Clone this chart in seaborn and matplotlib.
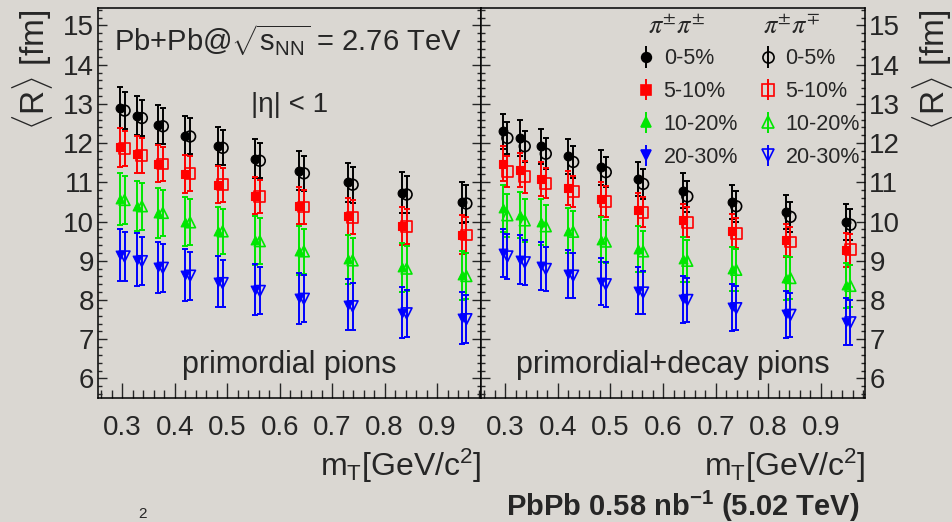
import matplotlib
matplotlib.use("Agg")
import matplotlib.pyplot as plt
import numpy as np
import pandas as pd
import seaborn as sns
from matplotlib.lines import Line2D
from matplotlib.ticker import MultipleLocator

sns.set_style("white")
plt.rcParams["font.family"] = ["Liberation Sans", "DejaVu Sans"]
plt.rcParams["mathtext.fontset"] = "custom"
plt.rcParams["mathtext.rm"] = "Liberation Sans"
plt.rcParams["mathtext.it"] = "Liberation Sans:italic"
plt.rcParams["mathtext.bf"] = "Liberation Sans:bold"

# ---------------------------------------------------------------------------
# Data
# ---------------------------------------------------------------------------
mt = [0.295, 0.328, 0.368, 0.420, 0.482, 0.553, 0.637, 0.730, 0.833, 0.947]
centralities = ["0-5%", "5-10%", "10-20%", "20-30%"]
colors = ["#000000", "#ff0000", "#00e600", "#0000ff"]
markers = ["o", "s", "^", "v"]

# primordial pions, like-sign (pi+-pi+-)
prim_like_R = [
    [12.90, 12.70, 12.47, 12.19, 11.92, 11.60, 11.30, 11.00, 10.74, 10.49],
    [11.89, 11.71, 11.48, 11.22, 10.94, 10.66, 10.40, 10.13, 9.89, 9.66],
    [10.58, 10.39, 10.22, 10.00, 9.75, 9.52, 9.26, 9.04, 8.83, 8.63],
    [9.15, 9.03, 8.83, 8.64, 8.47, 8.26, 8.05, 7.88, 7.68, 7.54],
]
prim_like_err = [
    [0.52, 0.50, 0.50, 0.50, 0.48, 0.50, 0.50, 0.50, 0.52, 0.53],
    [0.50, 0.48, 0.48, 0.48, 0.47, 0.47, 0.47, 0.48, 0.48, 0.50],
    [0.66, 0.64, 0.64, 0.63, 0.63, 0.63, 0.62, 0.62, 0.62, 0.62],
    [0.67, 0.67, 0.66, 0.66, 0.65, 0.65, 0.65, 0.65, 0.65, 0.66],
]
# primordial pions, unlike-sign (pi+-pi-+)
prim_unlike_R = [
    [12.83, 12.64, 12.43, 12.17, 11.88, 11.55, 11.23, 10.94, 10.69, 10.46],
    [11.86, 11.68, 11.47, 11.22, 10.94, 10.64, 10.37, 10.11, 9.88, 9.66],
    [10.55, 10.39, 10.22, 9.98, 9.75, 9.50, 9.24, 9.01, 8.80, 8.61],
    [9.11, 8.99, 8.82, 8.62, 8.43, 8.23, 8.03, 7.84, 7.66, 7.51],
]
prim_unlike_err = [
    [0.47, 0.46, 0.46, 0.46, 0.45, 0.45, 0.45, 0.46, 0.47, 0.48],
    [0.45, 0.44, 0.44, 0.44, 0.43, 0.43, 0.43, 0.44, 0.44, 0.45],
    [0.60, 0.60, 0.59, 0.59, 0.58, 0.58, 0.58, 0.58, 0.58, 0.58],
    [0.62, 0.62, 0.61, 0.61, 0.60, 0.60, 0.60, 0.60, 0.60, 0.61],
]
# primordial + decay pions, like-sign
decay_like_R = [
    [12.30, 12.13, 11.92, 11.66, 11.38, 11.09, 10.79, 10.50, 10.24, 9.99],
    [11.48, 11.31, 11.09, 10.85, 10.58, 10.30, 10.03, 9.77, 9.52, 9.28],
    [10.34, 10.17, 9.99, 9.77, 9.54, 9.30, 9.04, 8.79, 8.56, 8.37],
    [9.20, 9.03, 8.86, 8.67, 8.46, 8.23, 8.02, 7.82, 7.64, 7.45],
]
decay_like_err = [
    [0.45, 0.45, 0.45, 0.44, 0.44, 0.44, 0.44, 0.44, 0.44, 0.45],
    [0.44, 0.44, 0.43, 0.43, 0.43, 0.42, 0.42, 0.42, 0.43, 0.43],
    [0.60, 0.59, 0.59, 0.58, 0.58, 0.58, 0.57, 0.57, 0.57, 0.57],
    [0.62, 0.62, 0.61, 0.61, 0.60, 0.60, 0.60, 0.60, 0.60, 0.61],
]
# primordial + decay pions, unlike-sign
decay_unlike_R = [
    [12.13, 11.92, 11.73, 11.52, 11.26, 10.96, 10.64, 10.39, 10.12, 9.92],
    [11.28, 11.14, 10.98, 10.77, 10.51, 10.24, 9.98, 9.70, 9.48, 9.28],
    [10.16, 10.03, 9.88, 9.74, 9.49, 9.24, 9.00, 8.77, 8.56, 8.36],
    [9.11, 8.96, 8.79, 8.62, 8.40, 8.19, 8.00, 7.79, 7.62, 7.43],
]
decay_unlike_err = [
    [0.40, 0.40, 0.40, 0.40, 0.39, 0.39, 0.39, 0.39, 0.39, 0.40],
    [0.40, 0.40, 0.39, 0.39, 0.39, 0.39, 0.38, 0.38, 0.39, 0.39],
    [0.55, 0.55, 0.54, 0.54, 0.54, 0.53, 0.53, 0.53, 0.53, 0.53],
    [0.58, 0.58, 0.57, 0.57, 0.57, 0.56, 0.56, 0.56, 0.56, 0.57],
]

panel_labels = ["primordial pions", "primordial+decay pions"]
xticks = [0.3, 0.4, 0.5, 0.6, 0.7, 0.8, 0.9]
yticks = [6, 7, 8, 9, 10, 11, 12, 13, 14, 15]

# ---------------------------------------------------------------------------
# Long-form table for seaborn
# ---------------------------------------------------------------------------
rows = []
sets = [
    (0, "like", prim_like_R, prim_like_err),
    (0, "unlike", prim_unlike_R, prim_unlike_err),
    (1, "like", decay_like_R, decay_like_err),
    (1, "unlike", decay_unlike_R, decay_unlike_err),
]
for panel, pair, vals, errs in sets:
    for ci, cent in enumerate(centralities):
        for m, r, e in zip(mt, vals[ci], errs[ci]):
            rows.append({"panel": panel, "pair": pair, "cent": cent,
                         "mt": m, "R": r, "err": e})
df = pd.DataFrame(rows)

# ---------------------------------------------------------------------------
# Figure
# ---------------------------------------------------------------------------
bg = "#dad7d2"
fig = plt.figure(figsize=(9.53, 5.22), dpi=100, facecolor=bg)
ax_l = fig.add_axes([0.1032, 0.2375, 0.4016, 0.7475], facecolor=bg)
ax_r = fig.add_axes([0.5048, 0.2375, 0.4030, 0.7475], facecolor=bg)
axes = [ax_l, ax_r]

dx = 0.009  # horizontal shift of unlike-sign points
for p, ax in enumerate(axes):
    for ci, cent in enumerate(centralities):
        for pair in ["like", "unlike"]:
            sub = df[(df.panel == p) & (df.pair == pair) & (df.cent == cent)]
            xs = sub["mt"] + (dx if pair == "unlike" else 0.0)
            ax.errorbar(xs, sub["R"], yerr=sub["err"], fmt="none",
                        ecolor=colors[ci], elinewidth=1.4, capsize=2,
                        capthick=1.4, zorder=2)
            if pair == "like":
                sns.scatterplot(x=xs, y=sub["R"], ax=ax, marker=markers[ci],
                                color=colors[ci], edgecolor=colors[ci],
                                s=40, linewidth=0.8, zorder=3)
            else:
                sns.scatterplot(x=xs, y=sub["R"], ax=ax, marker=markers[ci],
                                facecolor="none", edgecolor=colors[ci],
                                s=60, linewidth=1.2, zorder=3)

    ax.set_xlim(0.254, 0.984)
    ax.set_ylim(5.5, 15.45)
    ax.set_xticks(xticks)
    ax.set_xticklabels([f"{t:.1f}" for t in xticks])
    ax.set_yticks(yticks)
    ax.xaxis.set_minor_locator(MultipleLocator(0.02))
    ax.yaxis.set_minor_locator(MultipleLocator(0.2))
    ax.set_xlabel("")
    ax.set_ylabel("")
    for s in ax.spines.values():
        s.set_color("black")
        s.set_linewidth(1.1)
    ax.tick_params(axis="x", which="major", direction="in", length=11,
                   width=1.0, bottom=True, top=False, labelsize=20, pad=12)
    ax.tick_params(axis="x", which="minor", direction="in", length=5.5,
                   width=1.0, bottom=True, top=False)
    ax.tick_params(axis="y", which="major", direction="in", length=6.5,
                   width=1.0, left=True, right=True, labelsize=20, pad=3)
    ax.tick_params(axis="y", which="minor", direction="in", length=3.2,
                   width=1.0, left=True, right=True)
    ax.text(0.5, 0.085, panel_labels[p], transform=ax.transAxes,
            ha="center", va="center", fontsize=22)
    ax.text(1.0, -0.175, r"m$_{\rm T}$[GeV/c$^{2}$]", transform=ax.transAxes,
            ha="right", va="center", fontsize=23)

ax_l.tick_params(axis="y", labelleft=True, labelright=False)
ax_r.tick_params(axis="y", labelleft=False, labelright=True)

ax_l.text(0.496, 0.918, r"Pb+Pb@$\sqrt{\mathrm{s}_{\rm NN}}$ = 2.76 TeV",
          transform=ax_l.transAxes, ha="center", va="center", fontsize=21)
ax_l.text(0.50, 0.751, "|η| < 1", transform=ax_l.transAxes,
          ha="center", va="center", fontsize=20)

fig.text(0.034, 0.866, r"$\langle$R$\rangle$ [fm]", rotation=90,
         ha="center", va="center", fontsize=24)
fig.text(0.978, 0.866, r"$\langle$R$\rangle$ [fm]", rotation=90,
         ha="center", va="center", fontsize=24)

# legend: two columns (like / unlike)
handles, labels = [], []
for pair in ["like", "unlike"]:
    for ci, cent in enumerate(centralities):
        eb = ax_r.errorbar([], [], yerr=[], fmt="none", ecolor=colors[ci],
                           elinewidth=1.4, capsize=2)
        mk = Line2D([], [], linestyle="none", marker=markers[ci],
                    color=colors[ci], markersize=7 if pair == "like" else 8,
                    markerfacecolor=colors[ci] if pair == "like" else "none",
                    markeredgewidth=1.2)
        handles.append((eb, mk))
        labels.append(cent)
leg = ax_r.legend(handles, labels, ncol=2, frameon=False, fontsize=15.5,
                  loc="upper left", bbox_to_anchor=(0.658, 0.928),
                  bbox_transform=fig.transFigure, borderpad=0,
                  handlelength=0.8, handletextpad=0.4, columnspacing=1.0,
                  labelspacing=0.55)
ax_r.text(0.51, 0.952, r"$\pi^{\pm}\pi^{\pm}$", transform=ax_r.transAxes,
          ha="center", va="center", fontsize=19, math_fontfamily="stix")
ax_r.text(0.81, 0.952, r"$\pi^{\pm}\pi^{\mp}$", transform=ax_r.transAxes,
          ha="center", va="center", fontsize=19, math_fontfamily="stix")

fig.text(0.902, 0.030, r"PbPb 0.58 nb$^{\mathbf{-1}}$ (5.02 TeV)",
         ha="right", va="center", fontsize=21, fontweight="bold")
fig.text(0.150, 0.002, "2", ha="center", va="bottom", fontsize=11)

fig.savefig("out.png", dpi=100, facecolor=bg)
